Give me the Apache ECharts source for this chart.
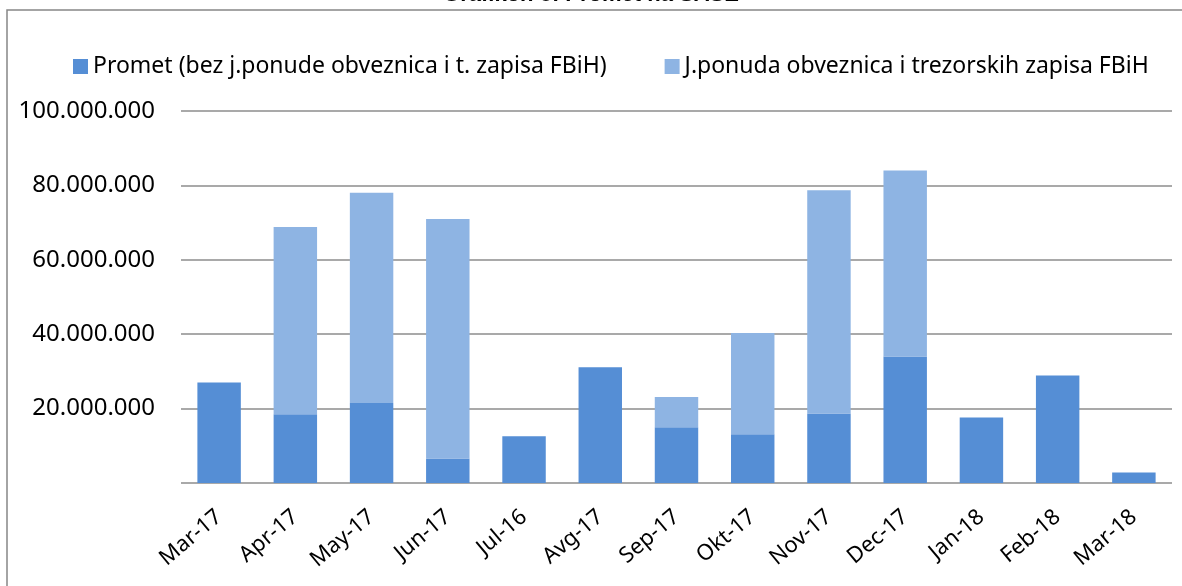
<!DOCTYPE html>
<html>
<head>
<meta charset="utf-8">
<script src="https://cdn.jsdelivr.net/npm/echarts@6/dist/echarts.min.js"></script>
<style>
html, body { margin: 0; padding: 0; background: #fff; }
#container { width: 1182px; height: 586px; }
</style>
</head>
<body>
<div id="container"></div>
<script>
// Grafikon 8: Promet na SASE
var months = ['Mar-17', 'Apr-17', 'May-17', 'Jun-17', 'Jul-16', 'Avg-17', 'Sep-17',
              'Okt-17', 'Nov-17', 'Dec-17', 'Jan-18', 'Feb-18', 'Mar-18'];
var promet = [27000000, 18500000, 21500000, 6600000, 12600000, 31100000, 15000000,
              13100000, 18700000, 34000000, 17600000, 28900000, 2800000];
var jPonuda = [0, 50300000, 56500000, 64400000, 0, 0, 8100000,
               27200000, 60000000, 50000000, 0, 0, 0];
var seriesNames = ['Promet (bez j.ponude obveznica i t. zapisa FBiH)',
                   'J.ponuda obveznica i trezorskih zapisa FBiH'];
var yTicks = [0, 20000000, 40000000, 60000000, 80000000, 100000000];

var font = 'Noto Sans';

function fmt(v) {
    if (v === 0) return '';
    return String(v).replace(/\B(?=(\d{3})+(?!\d))/g, '.');
}

var myChart = echarts.init(document.getElementById('container'));
var option = {
    animation: false,
    color: ['#558ED5', '#8EB4E3'],
    graphic: [
        {
            type: 'rect',
            shape: { x: 7, y: 10, width: 1300, height: 700 },
            style: { fill: 'none', stroke: '#878787', lineWidth: 1.5 }
        },
        {
            type: 'text',
            left: 'center',
            top: -16,
            style: {
                text: 'Grafikon 8: Promet na SASE',
                font: 'bold 22px "Liberation Sans", sans-serif',
                fill: '#000'
            }
        }
    ],
    legend: {
        left: 68,
        top: 50,
        itemWidth: 15,
        itemHeight: 15,
        itemGap: 58,
        icon: 'rect',
        textStyle: { fontFamily: font, fontSize: 23, color: '#000' },
        data: seriesNames
    },
    grid: {
        left: 181,
        right: 10,
        top: 111,
        bottom: 103
    },
    xAxis: {
        type: 'category',
        data: months,
        axisLine: { show: false },
        axisTick: { show: false },
        axisLabel: {
            interval: 0,
            rotate: 40,
            margin: 31,
            fontFamily: font,
            fontSize: 22,
            color: '#000'
        }
    },
    yAxis: {
        type: 'value',
        min: yTicks[0],
        max: yTicks[yTicks.length - 1],
        interval: 20000000,
        axisLine: { show: false },
        axisTick: { show: false },
        splitLine: { lineStyle: { color: '#8c8c8c', width: 1.5 } },
        axisLabel: {
            margin: 26,
            fontFamily: font,
            fontSize: 24,
            color: '#000',
            formatter: fmt
        }
    },
    series: [
        {
            name: seriesNames[0],
            type: 'bar',
            stack: 'total',
            barWidth: '57%',
            data: promet
        },
        {
            name: seriesNames[1],
            type: 'bar',
            stack: 'total',
            barWidth: '57%',
            data: jPonuda
        }
    ]
};
myChart.setOption(option);
</script>
</body>
</html>
